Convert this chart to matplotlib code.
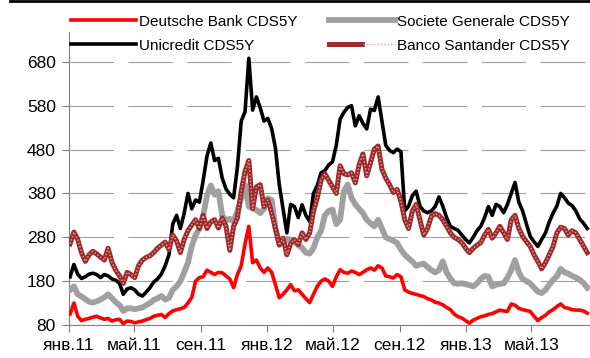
import pandas as pd
import matplotlib.pyplot as plt
from matplotlib.lines import Line2D
from matplotlib.legend_handler import HandlerTuple

plt.rcParams["font.family"] = ["Liberation Sans", "DejaVu Sans"]

# weekly observations, Jan 2011 - Aug 2013 (bp)
dates = pd.date_range("2011-01-03", periods=137, freq="7D")

deutsche = [
    105, 130, 100, 90, 93, 95, 98, 100, 96, 93, 95, 89, 92, 93, 83, 89, 88, 85, 87, 89,
    92, 95, 100, 102, 104, 97, 106, 112, 115, 117, 120, 130, 143, 180, 188, 190, 205, 200, 195, 200,
    199, 192, 185, 165, 195, 215, 265, 305, 222, 228, 210, 200, 210, 200, 172, 142, 150, 160, 172, 158,
    160, 150, 140, 131, 150, 168, 180, 185, 180, 168, 190, 206, 200, 198, 203, 200, 195, 200, 206, 210,
    205, 215, 210, 192, 190, 187, 195, 190, 160, 155, 152, 150, 147, 145, 140, 137, 132, 130, 126, 120,
    115, 105, 99, 96, 90, 84, 91, 95, 99, 101, 104, 106, 110, 114, 112, 111, 128, 125, 118, 115,
    113, 111, 100, 90, 97, 102, 110, 115, 122, 128, 120, 118, 115, 114, 114, 112, 107,
]
socgen = [
    160, 168, 150, 145, 139, 133, 131, 134, 138, 143, 150, 141, 132, 125, 112, 118, 118, 116, 118, 120,
    125, 130, 137, 141, 146, 138, 142, 160, 168, 180, 200, 222, 260, 285, 300, 330, 375, 398, 377, 385,
    330, 318, 322, 316, 340, 370, 400, 350, 347, 342, 335, 345, 369, 365, 300, 270, 265, 276, 275, 271,
    262, 256, 245, 243, 255, 280, 295, 330, 340, 343, 310, 320, 385, 400, 370, 355, 345, 335, 320, 312,
    305, 320, 300, 280, 276, 272, 267, 252, 240, 232, 225, 215, 218, 220, 212, 205, 200, 205, 225, 200,
    186, 175, 174, 175, 173, 171, 168, 175, 185, 192, 190, 168, 172, 174, 175, 188, 205, 228, 200, 185,
    180, 175, 165, 156, 153, 160, 172, 183, 191, 208, 200, 197, 192, 188, 183, 176, 165,
]
unicredit = [
    190, 218, 196, 186, 190, 196, 198, 195, 188, 195, 192, 185, 182, 175, 150, 162, 165, 160, 150, 146,
    155, 165, 178, 185, 196, 215, 240, 310, 330, 300, 335, 380, 345, 365, 360, 410, 465, 495, 455, 460,
    415, 390, 378, 370, 440, 545, 566, 688, 570, 600, 575, 545, 551, 528, 483, 400, 345, 290, 355, 350,
    325, 354, 330, 316, 380, 398, 427, 432, 445, 452, 490, 549, 565, 576, 580, 534, 557, 540, 527, 572,
    569, 600, 545, 490, 478, 473, 481, 475, 340, 351, 375, 385, 351, 340, 336, 340, 350, 372, 351, 325,
    305, 300, 296, 285, 275, 267, 280, 295, 305, 325, 350, 330, 355, 350, 336, 355, 380, 405, 360, 340,
    310, 282, 270, 259, 275, 290, 315, 335, 351, 380, 370, 358, 352, 340, 322, 312, 300,
]
santander = [
    265, 292, 275, 245, 225, 240, 248, 242, 235, 228, 255, 223, 205, 192, 175, 200, 195, 188, 215, 228,
    234, 238, 245, 255, 262, 269, 252, 285, 272, 245, 275, 295, 308, 320, 300, 330, 300, 315, 320, 301,
    324, 305, 250, 305, 324, 385, 430, 455, 345, 395, 400, 350, 365, 335, 300, 262, 278, 240, 265, 275,
    263, 290, 275, 290, 339, 370, 410, 425, 410, 395, 380, 443, 425, 422, 427, 404, 445, 470, 420, 450,
    481, 488, 435, 415, 400, 382, 389, 362, 320, 300, 340, 355, 320, 285, 300, 328, 334, 330, 320, 305,
    290, 280, 275, 268, 255, 245, 255, 262, 268, 285, 298, 278, 290, 305, 290, 275, 320, 330, 300, 282,
    270, 259, 240, 225, 208, 222, 240, 259, 290, 303, 300, 285, 295, 290, 275, 260, 245,
]

tick_dates = pd.to_datetime(["2011-01-01", "2011-05-01", "2011-09-01", "2012-01-01",
                             "2012-05-01", "2012-09-01", "2013-01-01", "2013-05-01"])
tick_labels = ["янв.11", "май.11", "сен.11", "янв.12", "май.12", "сен.12", "янв.13", "май.13"]
y_ticks = [80, 180, 280, 380, 480, 580, 680]

fig = plt.figure(figsize=(5.9, 3.58), dpi=100)
ax = fig.add_axes([69 / 590, 1 - 325 / 358, 521 / 590, 293 / 358])

h_db, = ax.plot(dates, deutsche, color="#ff0000", lw=2.6, zorder=3)
h_sg, = ax.plot(dates, socgen, color="#a0a0a0", lw=4.2, zorder=3)
h_uc, = ax.plot(dates, unicredit, color="black", lw=2.6, zorder=3)
h_bs, = ax.plot(dates, santander, color="#9e2a2b", lw=3.6, zorder=3)
# speckled pattern on top of the Santander line
h_bs2, = ax.plot(dates, santander, color="#e3a3a3", lw=1.0, ls=(0, (1, 1.5)), zorder=3)

ax.set_xlim(pd.Timestamp("2011-01-01"), pd.Timestamp("2013-08-17"))
ax.set_ylim(80, 748)
ax.set_yticks(y_ticks)
ax.set_xticks(tick_dates)
ax.set_xticklabels(tick_labels)
ax.tick_params(axis="both", labelsize=12.5, colors="#808080", labelcolor="black", length=5)
ax.tick_params(axis="y", pad=4.5)
ax.tick_params(axis="x", pad=4)

ax.grid(axis="y", color="#a0a0a0", lw=0.8, ls=(0, (40, 13)), zorder=1)
for side in ["top", "right"]:
    ax.spines[side].set_visible(False)
ax.spines["left"].set_color("#808080")
ax.spines["bottom"].set_color("#808080")

fig.legend([h_db, h_uc, h_sg, (h_bs, h_bs2)],
           ["Deutsche Bank CDS5Y", "Unicredit CDS5Y",
            "Societe Generale CDS5Y", "Banco Santander CDS5Y"],
           handler_map={tuple: HandlerTuple(ndivide=None)},
           ncol=2, loc="upper left", bbox_to_anchor=(70 / 590, 1 - 14 / 358),
           borderaxespad=0, borderpad=0.05, fontsize=11, frameon=True,
           facecolor="white", edgecolor="none", framealpha=1, fancybox=False,
           handlelength=4.3, handletextpad=0.15, columnspacing=2.1, labelspacing=0.65)

fig.add_artist(Line2D([0.017, 1], [0.996, 0.996], color="black", lw=2))

fig.savefig("out.png", dpi=100)
